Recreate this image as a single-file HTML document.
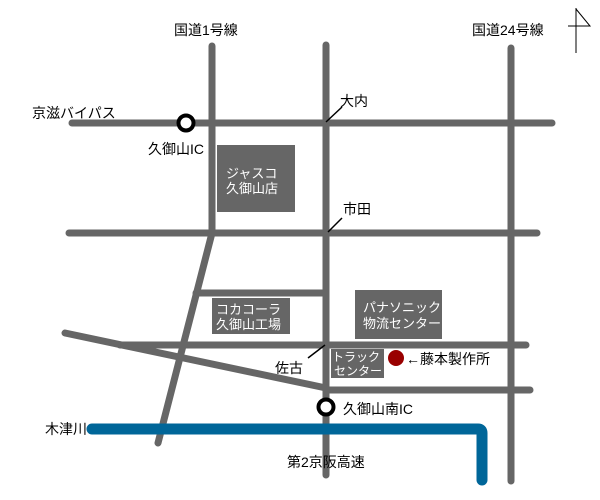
<!DOCTYPE html>
<html><head><meta charset="utf-8"><style>
html,body{margin:0;padding:0;background:#fff;}
svg{display:block;}
text{font-family:"Liberation Sans","Noto Sans CJK JP",sans-serif;font-size:14px;fill:#000;}
.w{fill:#fff;font-size:13px;}
</style></head><body>
<svg width="600" height="500" viewBox="0 0 600 500" xmlns="http://www.w3.org/2000/svg">
<g stroke="#666" stroke-width="7" stroke-linecap="round" fill="none">
<line x1="72" y1="123" x2="552" y2="123"/>
<line x1="69" y1="233" x2="537" y2="233"/>
<polyline points="212,46 212,233 158,443"/>
<line x1="326" y1="45" x2="326" y2="475"/>
<line x1="511" y1="48" x2="511" y2="481"/>
<line x1="196" y1="293" x2="324" y2="293"/>
<line x1="120" y1="345" x2="526" y2="345"/>
<line x1="65" y1="333" x2="326" y2="388"/>
<line x1="326" y1="390" x2="530" y2="390"/>
</g>
<path d="M92,429 H478 Q482,429 482,433 V480" stroke="#006699" stroke-width="11" fill="none" stroke-linecap="round"/>
<circle cx="186" cy="123" r="7.5" fill="#fff" stroke="#000" stroke-width="4"/>
<circle cx="326" cy="407" r="7.5" fill="#fff" stroke="#000" stroke-width="4"/>
<rect x="217" y="145" width="78" height="67" fill="#666"/>
<rect x="212" y="298" width="78" height="36" fill="#666"/>
<rect x="355" y="290" width="87" height="49" fill="#666"/>
<rect x="331" y="349" width="53" height="29" fill="#666"/>
<circle cx="396" cy="358" r="8" fill="#990000"/>
<g stroke="#000" stroke-width="1.5">
<line x1="326" y1="122" x2="342" y2="107"/>
<line x1="328" y1="232" x2="342" y2="218"/>
<line x1="308" y1="358" x2="325" y2="345"/>
</g>
<g stroke="#000" stroke-width="1" fill="none">
<line x1="576" y1="8" x2="576" y2="53"/>
<polyline points="576,9 590,26 568,26"/>
</g>
<text x="174" y="35">国道1号線</text>
<text x="472" y="35">国道24号線</text>
<text x="32" y="118">京滋バイパス</text>
<text x="148" y="154">久御山IC</text>
<text x="340" y="106">大内</text>
<text x="343" y="214">市田</text>
<text x="275" y="373">佐古</text>
<text x="343" y="414">久御山南IC</text>
<text x="45" y="434">木津川</text>
<text x="287" y="467">第2京阪高速</text>
<text x="406" y="364">←藤本製作所</text>
<text class="w" x="226" y="178">ジャスコ</text>
<text class="w" x="226" y="193">久御山店</text>
<text class="w" x="216" y="314">コカコーラ</text>
<text class="w" x="216" y="329">久御山工場</text>
<text class="w" x="363" y="312">パナソニック</text>
<text class="w" x="363" y="328">物流センター</text>
<text class="w" x="332" y="361" style="font-size:12px">トラック</text>
<text class="w" x="334" y="375" style="font-size:12px">センター</text>
</svg>
</body></html>
